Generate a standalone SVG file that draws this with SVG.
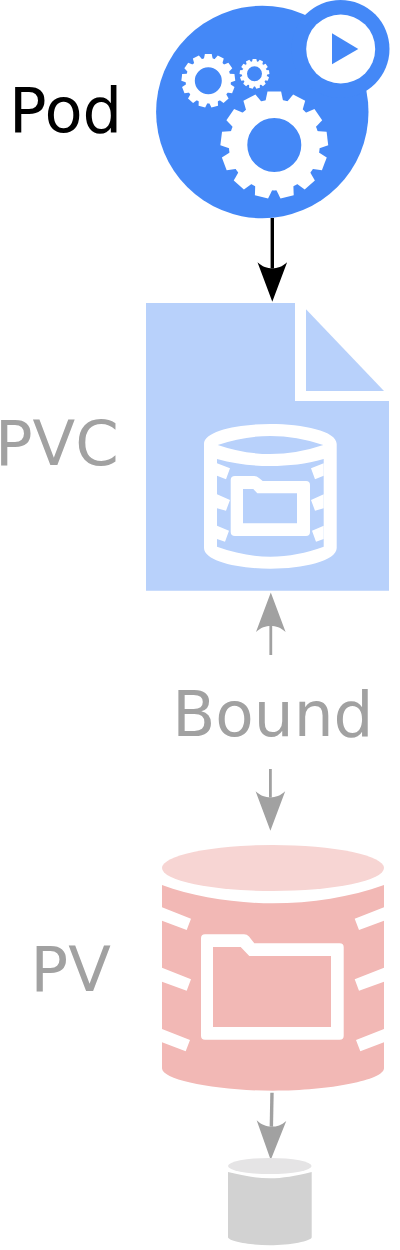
<svg xmlns="http://www.w3.org/2000/svg" width="400" height="1250" viewBox="0 0 400 1250">
<defs>
<marker id="headBlack" markerUnits="userSpaceOnUse" markerWidth="42" markerHeight="32" refX="6" refY="16" orient="auto" overflow="visible"><path d="M0,1.2L39.4,16L0,30.8C4.5,26 6,21 6,16C6,11 4.5,6 0,1.2Z" fill="#000"/></marker>
<marker id="headGray" markerUnits="userSpaceOnUse" markerWidth="42" markerHeight="32" refX="6" refY="16" orient="auto" overflow="visible"><path d="M0,1.2L39.4,16L0,30.8C4.5,26 6,21 6,16C6,11 4.5,6 0,1.2Z" fill="#a1a1a1"/></marker>
<path id="tooth" d="M-9,-43L-6.8,-53.5H6.8L9,-43Z" fill="#fff"/>
<g id="gear">
<circle r="36.2" fill="none" stroke="#fff" stroke-width="18.4"/>
<use href="#tooth"/>
<use href="#tooth" transform="rotate(27.69)"/>
<use href="#tooth" transform="rotate(55.38)"/>
<use href="#tooth" transform="rotate(83.08)"/>
<use href="#tooth" transform="rotate(110.77)"/>
<use href="#tooth" transform="rotate(138.46)"/>
<use href="#tooth" transform="rotate(166.15)"/>
<use href="#tooth" transform="rotate(193.85)"/>
<use href="#tooth" transform="rotate(221.54)"/>
<use href="#tooth" transform="rotate(249.23)"/>
<use href="#tooth" transform="rotate(276.92)"/>
<use href="#tooth" transform="rotate(304.62)"/>
<use href="#tooth" transform="rotate(332.31)"/>
</g>
</defs>
<style>
text{font-family:"DejaVu Sans",sans-serif;font-size:62.4px}
.gray{fill:#a1a1a1}
.blue{fill:#4488f7}
.lt{fill:#b8d1fb}
.w{fill:#fff}
.a{fill:none;stroke:#a1a1a1;stroke-width:2.8;marker-end:url(#headGray)}
</style>
<rect width="400" height="1250" fill="#fff"/>
<g id="connectors">
<path d="M272.3,218V268.3" fill="none" stroke="#000" stroke-width="3.4" marker-end="url(#headBlack)"/>
<path class="a" d="M270.8,655V626"/>
<path class="a" d="M270.4,769V797.3"/>
<path class="a" style="stroke-width:3.4" d="M272,1092.7L271.35,1126.6"/>
</g>
<g id="pod">
<circle class="blue" cx="262.3" cy="112" r="106.2"/>
<circle class="blue" cx="340.5" cy="49" r="49"/>
<circle class="w" cx="340.7" cy="49" r="34.5"/>
<path class="blue" d="M332,33.3L358.3,49L332,64.3Z"/>
<use href="#gear" transform="translate(274.3 145)"/>
<use href="#gear" transform="translate(208.3 80.7) scale(.5)"/>
<use href="#gear" transform="translate(254.5 73.8) scale(.277)"/>
<text x="9" y="131.5" fill="#000">Pod</text>
</g>
<g id="pvc">
<path class="lt" d="M146,303H295V401H389V590.7H146Z"/>
<path class="lt" d="M306,309.3L384,391H306Z"/>
<path class="w" fill-rule="evenodd" d="M204,444C204,431 238,424 270.3,424C303,424 336.7,431 336.7,444V548C336.7,561 303,568.7 270.3,568.7C238,568.7 204,561 204,548ZM217.7,445Q270.3,427 323.3,445Q270.3,463 217.7,445ZM217,459C235,464 252,466 270.3,466C289,466 306,464 323.7,459V546.7C306,553 289,556.7 270.3,556.7C252,556.7 235,553 217,546.7Z"/>
<path class="w" d="M217,463.3L230,468.3L226,479.3L217,475.7ZM217,494.3L230,500L226,510.7L217,508.3ZM217,525.7L229,530.7L225,541.7L217,539ZM323.7,463.3L311,468.3L315,479.3L323.7,475.7ZM323.7,494.3L311,500L315,510.7L323.7,508.3ZM323.7,525.7L312,530.7L316,541.7L323.7,539Z"/>
<path class="w" fill-rule="evenodd" d="M235,476H254Q257,476 259,478L262.7,481H306Q310,481 310,485V532Q310,536 306,536H235Q230.7,536 230.7,532V480Q230.7,476 235,476ZM243,489V523.3H297V493.3H257.3L253.3,489Z"/>
<text class="gray" x="-5" y="465">PVC</text>
</g>
<g id="bound"><text class="gray" x="172.2" y="735.5" style="font-size:62.9px">Bound</text></g>
<g id="pv">
<ellipse cx="273" cy="868" rx="111" ry="23" fill="#f7d5d3"/>
<path fill="#f2b8b5" d="M162,885C195,897 235,903.3 273,903.3C311,903.3 351,897 384,885V1068.3C384,1080 330,1090.7 273,1090.7C216,1090.7 162,1080 162,1068.3Z"/>
<path class="w" d="M162,907.3L191,918.7L186.7,930L162,920.7ZM162,967.7L191,979.3L186.7,990.7L162,981.7ZM162,1029L190,1040L185.7,1051.3L162,1042.3ZM384,907.3L354.7,918.7L359,930L384,920.7ZM384,967.7L354.7,979.3L359,990.7L384,981.7ZM384,1029L356,1040L360.3,1051.3L384,1042.3Z"/>
<path class="w" fill-rule="evenodd" d="M205,934.3H244Q247,934.3 249,936.5L254.3,943.3H339.7Q343.7,943.3 343.7,947.3V1035.7Q343.7,1039.7 339.7,1039.7H205Q201,1039.7 201,1035.7V938.3Q201,934.3 205,934.3ZM213,947V1027H331V956H249.3L240.7,947Z"/>
<text class="gray" x="30.6" y="990.5">PV</text>
</g>
<g id="storage">
<ellipse cx="269.8" cy="1166" rx="41.8" ry="8" fill="#e5e4e5"/>
<path fill="#d2d2d2" d="M228,1172C245,1176 257,1178.3 269.8,1178.3C283,1178.3 295,1176 311.7,1172V1237.3C311.7,1241 290,1245.3 269.8,1245.3C250,1245.3 228,1241 228,1237.3Z"/>
</g>
</svg>
